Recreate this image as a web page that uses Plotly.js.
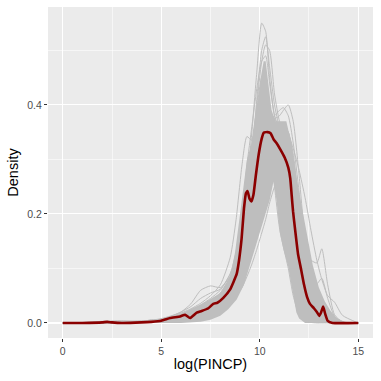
<!DOCTYPE html>
<html>
<head>
<meta charset="utf-8">
<script src="https://cdn.plot.ly/plotly-3.0.1.min.js"></script>
<style>
  html, body { margin: 0; padding: 0; background: #ffffff; }
  #chart { width: 381px; height: 381px; }
</style>
</head>
<body>
<div id="chart"></div>
<script>
// observed density of log(PINCP)
const obsX = [0, 1, 2, 2.25, 2.5, 3, 4, 4.5, 5, 5.45, 5.96, 6.21, 6.46, 6.8, 7.05, 7.39, 7.64, 7.85, 8.15, 8.49, 8.83, 8.95, 9.08, 9.2, 9.3, 9.38, 9.48, 9.58, 9.68, 9.8, 9.95, 10.1, 10.2, 10.4, 10.55, 10.7, 10.85, 11.05, 11.27, 11.45, 11.55, 11.62, 11.69, 11.8, 11.95, 12.1, 12.25, 12.4, 12.55, 12.75, 12.9, 13.02, 13.12, 13.22, 13.32, 13.45, 13.7, 15];
const obsY = [0, 0, 0.001, 0.002, 0.001, 0, 0.001, 0.002, 0.004, 0.009, 0.012, 0.015, 0.009, 0.019, 0.022, 0.027, 0.035, 0.037, 0.046, 0.061, 0.09, 0.115, 0.155, 0.21, 0.238, 0.242, 0.228, 0.223, 0.235, 0.27, 0.31, 0.338, 0.349, 0.35, 0.348, 0.337, 0.33, 0.318, 0.303, 0.285, 0.265, 0.235, 0.205, 0.17, 0.125, 0.098, 0.07, 0.048, 0.035, 0.027, 0.02, 0.013, 0.02, 0.03, 0.017, 0.004, 0, 0];

// dense core of the bootstrap densities (upper edge, then lower edge back)
const coreUpperX = [4.5, 5, 5.5, 6, 6.5, 7, 7.5, 8, 8.5, 8.75, 9.0, 9.2, 9.35, 9.6, 9.85, 10.05, 10.2, 10.3, 10.45, 10.6, 10.8, 11.1, 11.35, 11.6, 11.85, 12.1, 12.4, 12.7, 13.0, 13.3, 13.6, 13.9, 14.3, 14.6];
const coreUpperY = [0, 0.005, 0.01, 0.017, 0.025, 0.034, 0.044, 0.055, 0.085, 0.13, 0.2, 0.26, 0.3, 0.33, 0.39, 0.45, 0.48, 0.48, 0.44, 0.39, 0.37, 0.37, 0.37, 0.33, 0.27, 0.22, 0.16, 0.105, 0.065, 0.04, 0.022, 0.009, 0.002, 0];
const coreLowerX = [12.3, 12.0, 11.86, 11.65, 11.44, 11.2, 11.02, 10.85, 10.7, 10.51, 10.25, 10.0, 9.75, 9.5, 9.2, 8.83, 8.4, 8.0, 7.5, 7.0, 6.0, 4.5];
const coreLowerY = [0, 0.008, 0.019, 0.06, 0.104, 0.135, 0.165, 0.226, 0.26, 0.226, 0.195, 0.165, 0.135, 0.104, 0.07, 0.043, 0.025, 0.013, 0.006, 0.002, 0, 0];

// grid for the individual bootstrap curves
const bootGrid = [0, 1, 2, 3, 4, 4.5, 5, 5.5, 6, 6.5, 7, 7.5, 8, 8.5, 8.8, 9.1, 9.35, 9.6, 9.85, 10.1, 10.3, 10.5, 10.75, 11, 11.2, 11.45, 11.7, 12, 12.3, 12.6, 12.9, 13.15, 13.45, 13.8, 14.2, 15];
const bootCurves = [
  [0, 0, 0, 0.001, 0.002, 0.003, 0.006, 0.01, 0.015, 0.022, 0.03, 0.04, 0.055, 0.085, 0.115, 0.17, 0.25, 0.35, 0.46, 0.55, 0.535, 0.45, 0.38, 0.35, 0.34, 0.32, 0.27, 0.19, 0.11, 0.055, 0.025, 0.012, 0.005, 0.002, 0, 0],
  [0, 0, 0, 0, 0.001, 0.002, 0.004, 0.008, 0.012, 0.018, 0.026, 0.036, 0.05, 0.07, 0.1, 0.15, 0.22, 0.31, 0.4, 0.48, 0.51, 0.5, 0.42, 0.37, 0.35, 0.33, 0.28, 0.2, 0.12, 0.06, 0.03, 0.015, 0.006, 0.002, 0, 0],
  [0, 0, 0.001, 0.002, 0.003, 0.004, 0.007, 0.011, 0.016, 0.024, 0.033, 0.045, 0.06, 0.09, 0.13, 0.2, 0.29, 0.36, 0.43, 0.48, 0.49, 0.44, 0.38, 0.36, 0.36, 0.35, 0.3, 0.21, 0.12, 0.06, 0.028, 0.013, 0.005, 0.002, 0, 0],
  [0, 0, 0, 0.001, 0.002, 0.003, 0.005, 0.008, 0.012, 0.018, 0.025, 0.034, 0.045, 0.065, 0.085, 0.12, 0.17, 0.23, 0.29, 0.34, 0.37, 0.38, 0.375, 0.38, 0.39, 0.4, 0.37, 0.27, 0.15, 0.07, 0.03, 0.014, 0.006, 0.002, 0, 0],
  [0, 0, 0, 0, 0.001, 0.002, 0.004, 0.007, 0.011, 0.017, 0.024, 0.033, 0.045, 0.07, 0.1, 0.15, 0.22, 0.29, 0.34, 0.37, 0.38, 0.375, 0.38, 0.39, 0.395, 0.38, 0.33, 0.24, 0.14, 0.07, 0.035, 0.016, 0.007, 0.002, 0, 0],
  [0, 0, 0.001, 0.002, 0.003, 0.004, 0.007, 0.012, 0.018, 0.026, 0.036, 0.05, 0.07, 0.12, 0.19, 0.29, 0.342, 0.335, 0.39, 0.45, 0.44, 0.39, 0.34, 0.32, 0.31, 0.29, 0.24, 0.16, 0.09, 0.045, 0.022, 0.01, 0.004, 0.001, 0, 0],
  [0, 0, 0.002, 0.003, 0.004, 0.005, 0.008, 0.013, 0.02, 0.035, 0.06, 0.068, 0.065, 0.085, 0.11, 0.16, 0.23, 0.3, 0.36, 0.4, 0.41, 0.39, 0.34, 0.3, 0.27, 0.24, 0.2, 0.15, 0.125, 0.115, 0.11, 0.136, 0.07, 0.015, 0.002, 0],
  [0, 0, 0, 0, 0.001, 0.002, 0.003, 0.005, 0.007, 0.01, 0.014, 0.02, 0.028, 0.04, 0.05, 0.065, 0.085, 0.108, 0.135, 0.165, 0.19, 0.22, 0.25, 0.27, 0.275, 0.27, 0.245, 0.19, 0.13, 0.08, 0.045, 0.022, 0.01, 0.004, 0.001, 0],
  [0, 0, 0, 0.001, 0.002, 0.003, 0.005, 0.009, 0.014, 0.02, 0.028, 0.038, 0.052, 0.08, 0.11, 0.17, 0.25, 0.33, 0.39, 0.42, 0.4, 0.33, 0.25, 0.175, 0.14, 0.1, 0.05, 0.015, 0.004, 0.001, 0, 0, 0, 0, 0, 0],
  [0, 0, 0, 0, 0.001, 0.002, 0.003, 0.005, 0.008, 0.012, 0.017, 0.024, 0.033, 0.048, 0.065, 0.09, 0.125, 0.17, 0.22, 0.27, 0.3, 0.32, 0.33, 0.34, 0.35, 0.345, 0.32, 0.28, 0.23, 0.17, 0.115, 0.08, 0.05, 0.038, 0.014, 0],
  [0, 0, 0, 0.001, 0.002, 0.003, 0.005, 0.009, 0.013, 0.019, 0.027, 0.037, 0.05, 0.075, 0.1, 0.145, 0.21, 0.28, 0.33, 0.36, 0.37, 0.37, 0.36, 0.36, 0.36, 0.35, 0.31, 0.22, 0.14, 0.09, 0.072, 0.082, 0.045, 0.012, 0.002, 0],
  [0, 0.001, 0.003, 0.004, 0.002, 0.006, 0.005, 0.012, 0.02, 0.03, 0.045, 0.055, 0.062, 0.09, 0.12, 0.18, 0.26, 0.32, 0.37, 0.41, 0.42, 0.4, 0.35, 0.33, 0.32, 0.3, 0.26, 0.18, 0.1, 0.05, 0.024, 0.01, 0.004, 0.001, 0, 0],
  [0, 0, 0, 0.001, 0.002, 0.003, 0.005, 0.009, 0.014, 0.02, 0.028, 0.038, 0.052, 0.078, 0.105, 0.16, 0.23, 0.3, 0.41, 0.5, 0.525, 0.47, 0.4, 0.36, 0.35, 0.34, 0.29, 0.2, 0.115, 0.058, 0.027, 0.012, 0.005, 0.001, 0, 0]
];

const xTicks = [0, 5, 10, 15];
const yTicks = [0, 0.2, 0.4];
const yTickText = ['0.0', '0.2', '0.4'];

const grey = '#BEBEBE';
const fontFamily = 'Liberation Sans, Arial, sans-serif';

const data = [];

data.push({
  type: 'scatter',
  mode: 'lines',
  x: coreUpperX.concat(coreLowerX),
  y: coreUpperY.concat(coreLowerY),
  fill: 'toself',
  fillcolor: grey,
  line: { width: 0, color: grey },
  hoverinfo: 'skip',
  showlegend: false
});

bootCurves.forEach((curve) => {
  data.push({
    type: 'scatter',
    mode: 'lines',
    x: bootGrid,
    y: curve,
    line: { color: grey, width: 1, shape: 'spline', smoothing: 0.6 },
    hoverinfo: 'skip',
    showlegend: false
  });
});

data.push({
  type: 'scatter',
  mode: 'lines',
  x: obsX,
  y: obsY,
  line: { color: '#8B0000', width: 2.6, shape: 'spline', smoothing: 0.4 },
  showlegend: false
});

const axisCommon = {
  showgrid: true,
  gridcolor: '#ffffff',
  gridwidth: 1.1,
  zeroline: false,
  showline: false,
  ticks: 'outside',
  ticklen: 3,
  tickwidth: 1,
  tickcolor: '#333333',
  tickfont: { family: fontFamily, size: 10.5, color: '#4D4D4D' }
};

const layout = {
  width: 381,
  height: 381,
  margin: { l: 48, r: 8, t: 7, b: 43 },
  paper_bgcolor: '#ffffff',
  plot_bgcolor: '#EBEBEB',
  font: { family: fontFamily },
  showlegend: false,
  xaxis: Object.assign({}, axisCommon, {
    range: [-0.75, 15.75],
    tickmode: 'array',
    tickvals: xTicks,
    ticktext: xTicks.map(String),
    minor: { tickvals: [2.5, 7.5, 12.5], showgrid: true, gridcolor: '#ffffff', gridwidth: 0.55, ticks: '' },
    title: { text: 'log(PINCP)', font: { family: fontFamily, size: 14.5, color: '#000000' }, standoff: 3 }
  }),
  yaxis: Object.assign({}, axisCommon, {
    range: [-0.0276, 0.5796],
    tickmode: 'array',
    tickvals: yTicks,
    ticktext: yTickText,
    minor: { tickvals: [0.1, 0.3, 0.5], showgrid: true, gridcolor: '#ffffff', gridwidth: 0.55, ticks: '' },
    title: { text: 'Density', font: { family: fontFamily, size: 14.5, color: '#000000' }, standoff: 5 }
  })
};

Plotly.newPlot('chart', data, layout, { displayModeBar: false, staticPlot: true });
</script>
</body>
</html>
